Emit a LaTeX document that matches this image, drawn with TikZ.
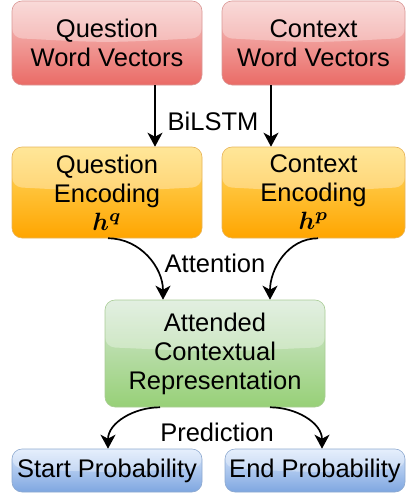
\documentclass[tikz,border=0pt]{standalone}
\usepackage{fontspec}
\setmainfont{Liberation Sans}
\usetikzlibrary{arrows.meta,calc}
\definecolor{redT}{HTML}{F7C9C7}\definecolor{redB}{HTML}{EA6B66}\definecolor{redS}{HTML}{D99896}
\definecolor{orT}{HTML}{FFCD28}\definecolor{orB}{HTML}{FFA500}\definecolor{orS}{HTML}{E7B45A}
\definecolor{grT}{HTML}{D5E8D4}\definecolor{grB}{HTML}{97D077}\definecolor{grS}{HTML}{A9CC95}
\definecolor{blT}{HTML}{DAE8FC}\definecolor{blB}{HTML}{7EA6E0}\definecolor{blS}{HTML}{8EA9CF}
\newcommand{\bigmath}[1]{{\normalsize\boldmath\scalebox{2.5}{$#1$}}}
\tikzset{
  glass/.style={path picture={
    \coordinate (gNW) at (path picture bounding box.north west);
    \coordinate (gNE) at (path picture bounding box.north east);
    \coordinate (gL) at ($(path picture bounding box.north west)!0.44!(path picture bounding box.south west)$);
    \coordinate (gR) at ($(path picture bounding box.north east)!0.44!(path picture bounding box.south east)$);
    \fill[white,fill opacity=.32] (gNW) -- (gNE) -- (gR) .. controls ($(gR)!0.5!(gL)+(0,-5pt)$) .. (gL) -- cycle;
  }},
  box/.style={rounded corners=10pt, line width=0.6pt, align=center, inner sep=0pt,
    font=\fontsize{25.5}{29}\selectfont, text=black, glass},
  redbox/.style={box, draw=redS, top color=redT, bottom color=redB},
  orbox/.style={box, draw=orS, top color=orT!70!white, bottom color=orB},
  grbox/.style={box, draw=grS, top color=grT, bottom color=grB},
  blbox/.style={box, draw=blS, top color=blT, bottom color=blB},
  conn/.style={line width=1.7pt, -{Stealth[length=14pt,width=15pt,inset=4pt]}},
  lbl/.style={font=\fontsize{25.5}{29}\selectfont, inner sep=0pt},
}
\begin{document}
\begin{tikzpicture}[x=1pt,y=-1pt]
\useasboundingbox (0,0) rectangle (407,495);
\node[redbox, minimum width=190pt, minimum height=84pt] (qwv) at (107,43) {Question\\Word Vectors};
\node[redbox, minimum width=183pt, minimum height=84pt] (cwv) at (313.5,43) {Context\\Word Vectors};
\node[orbox, minimum width=190pt, minimum height=91pt] (qenc) at (107,192.5) {Question\\Encoding\\[-1pt]\bigmath{h^q}};
\node[orbox, minimum width=183pt, minimum height=91pt] (cenc) at (313.5,192.5) {Context\\Encoding\\[-1pt]\bigmath{h^p}};
\node[grbox, minimum width=220pt, minimum height=107pt] (acr) at (215,353.5) {Attended\\Contextual\\Representation};
\node[blbox, minimum width=190pt, minimum height=43pt] (sp) at (107,470.5) {Start Probability};
\node[blbox, minimum width=180pt, minimum height=43pt] (ep) at (315,470.5) {End Probability};
\node[lbl] (l1) at (213,121) {BiLSTM};
\node[lbl] (l2) at (215,263) {Attention};
\node[lbl] (l3) at (217,432) {Prediction};
\draw[conn] ([xshift=48pt]qwv.south) -- ([xshift=48pt]qenc.north);
\draw[conn] ([xshift=-42.5pt]cwv.south) -- ([xshift=-42.5pt]cenc.north);
\draw[conn] ([xshift=1pt]qenc.south) to[out=0,in=90] ([xshift=-52pt]acr.north);
\draw[conn] ([xshift=4.5pt]cenc.south) to[out=180,in=90] ([xshift=55pt]acr.north);
\draw[conn] ([xshift=-55pt]acr.south) to[out=180,in=90] ([xshift=1pt]sp.north);
\draw[conn] ([xshift=55pt]acr.south) to[out=0,in=90] ([xshift=7pt]ep.north);
\end{tikzpicture}
\end{document}
